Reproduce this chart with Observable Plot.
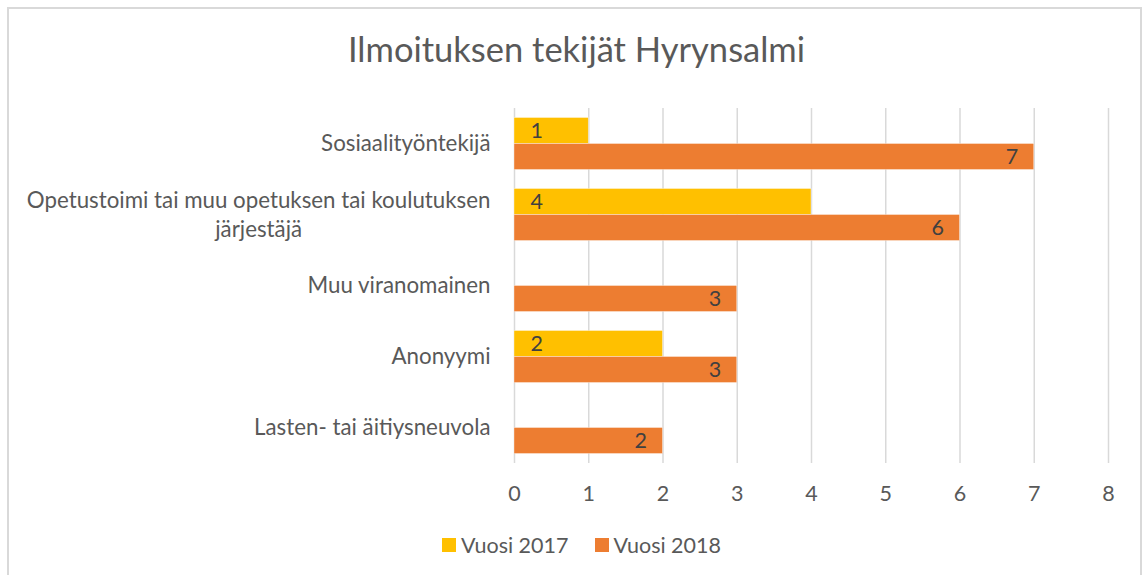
<!DOCTYPE html>
<html>
<head>
<meta charset="utf-8">
<script src="https://cdn.jsdelivr.net/npm/d3@7"></script>
<script src="https://cdn.jsdelivr.net/npm/@observablehq/plot@0.6"></script>
<style>
  body { margin: 0; background: #fff; font-family: Lato, "Open Sans", sans-serif; }
  #wrap { position: relative; width: 1143px; height: 575px; overflow: hidden; background: #fff; }
  #frame { position: absolute; left: 7px; top: 7px; width: 1135px; height: 620px; border: 2px solid #d9d9d9; box-sizing: border-box; }
  #title { position: absolute; left: 0; width: 1153px; top: 32px; text-align: center; font-size: 34.5px; line-height: 34px; color: #595959; white-space: nowrap; }
  #chart { position: absolute; left: 0; top: 90px; }
  #legend { position: absolute; left: 442px; top: 534px; display: flex; align-items: center; font-size: 21.5px; line-height: 22px; color: #595959; }
  .item { display: flex; align-items: center; margin-right: 26px; }
  .sw { width: 14px; height: 14px; margin-right: 5px; }
</style>
</head>
<body>
<div id="wrap">
  <div id="frame"></div>
  <div id="title">Ilmoituksen tekijät Hyrynsalmi</div>
  <div id="chart"></div>
  <div id="legend"></div>
</div>
<script>
const categories = [
  "Sosiaalityöntekijä",
  "Opetustoimi tai muu opetuksen tai koulutuksen järjestäjä",
  "Muu viranomainen",
  "Anonyymi",
  "Lasten- tai äitiysneuvola"
];
const seriesNames = ["Vuosi 2017", "Vuosi 2018"];
const values2017 = [1, 4, null, 2, null];
const values2018 = [7, 6, 3, 3, 2];
const xTicks = [0, 1, 2, 3, 4, 5, 6, 7, 8];
const seriesColors = ["#FFC000", "#ED7D31"];

const rows = [];
categories.forEach((c, i) => {
  rows.push({cat: c, series: seriesNames[0], value: values2017[i]});
  rows.push({cat: c, series: seriesNames[1], value: values2018[i]});
});
const present = rows.filter(d => d.value != null);
const rows2017 = present.filter(d => d.series === seriesNames[0]);
const rows2018 = present.filter(d => d.series === seriesNames[1]);

const wrapLabel = d => d.replace(" koulutuksen ", " koulutuksen\n");

const chart = Plot.plot({
  width: 1143,
  height: 430,
  marginLeft: 514,
  marginRight: 35,
  marginTop: 17.5,
  marginBottom: 57.5,
  style: {fontFamily: "Lato, 'Open Sans', sans-serif", fontSize: "21px", color: "#595959", background: "transparent", overflow: "visible"},
  x: {domain: [0, 8], label: null},
  fy: {domain: categories, padding: 0, label: null, axis: null},
  y: {domain: seriesNames, paddingInner: 0, paddingOuter: 0.315, axis: null, label: null},
  color: {domain: seriesNames, range: seriesColors},
  marks: [
    Plot.gridX({ticks: xTicks, stroke: "#d9d9d9", strokeOpacity: 1, strokeWidth: 1.5}),
    Plot.barX(present, {fy: "cat", y: "series", x: "value", fill: "series", stroke: "#ffffff", strokeWidth: 0.6, strokeOpacity: 0.6}),
    Plot.text(rows2017, {fy: "cat", y: "series", x: () => 0, text: d => String(d.value), textAnchor: "start", dx: 16, fill: "#404040", fontSize: 21.5}),
    Plot.text(rows2018, {fy: "cat", y: "series", x: "value", text: d => String(d.value), textAnchor: "end", dx: -16, fill: "#404040", fontSize: 21.5}),
    Plot.axisX({ticks: xTicks, tickSize: 0, tickPadding: 22, label: null, fontSize: 21.5}),
    Plot.axisFy({anchor: "left", tickSize: 0, tickPadding: 24, label: null, tickFormat: wrapLabel, fontSize: 22.3, lineHeight: 1.3, dy: -2})
  ]
});
document.getElementById("chart").appendChild(chart);

// centre the lines of wrapped category labels, as the original does
chart.querySelectorAll('g[aria-label="fy-axis tick label"] text').forEach(t => {
  const spans = t.querySelectorAll("tspan");
  if (spans.length > 1) {
    let w = 0;
    spans.forEach(s => { w = Math.max(w, s.getComputedTextLength()); });
    t.setAttribute("text-anchor", "middle");
    spans.forEach(s => s.setAttribute("x", -w / 2));
  }
});

const legend = document.getElementById("legend");
seriesNames.forEach((name, i) => {
  const item = document.createElement("div");
  item.className = "item";
  const sw = document.createElement("div");
  sw.className = "sw";
  sw.style.background = seriesColors[i];
  const label = document.createElement("span");
  label.textContent = name;
  item.appendChild(sw);
  item.appendChild(label);
  legend.appendChild(item);
});
</script>
</body>
</html>
